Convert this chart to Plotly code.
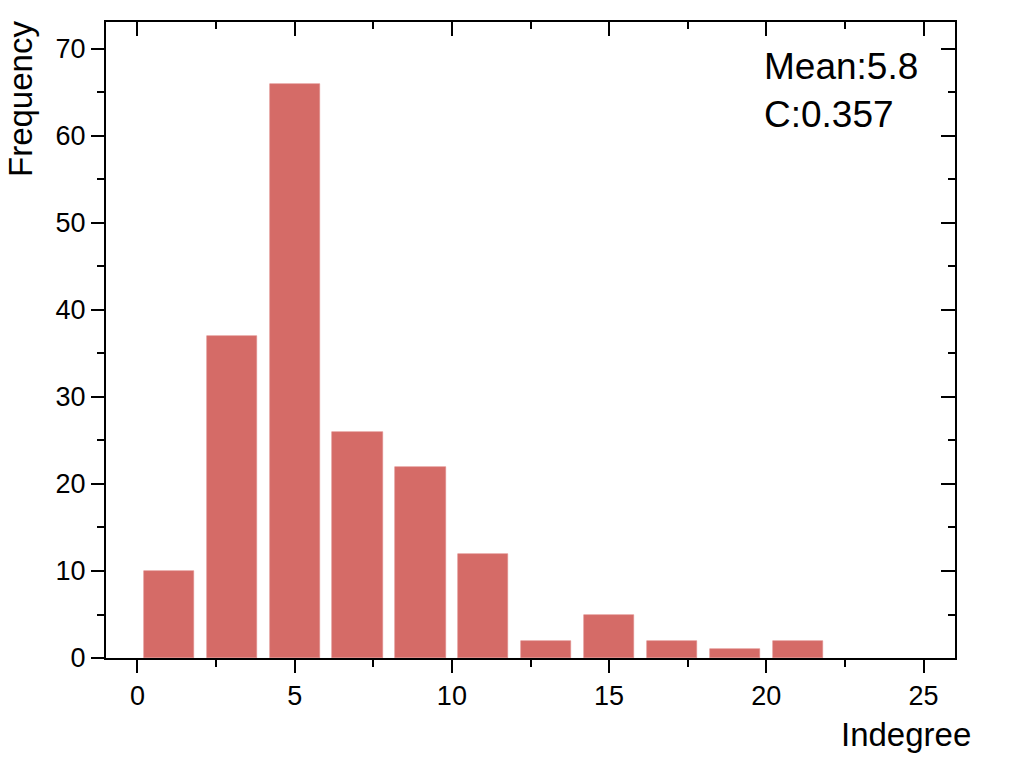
import plotly.graph_objects as go

bin_centers = [1, 3, 5, 7, 9, 11, 13, 15, 17, 19, 21]
frequency = [10, 37, 66, 26, 22, 12, 2, 5, 2, 1, 2]
x_ticks = [0, 5, 10, 15, 20, 25]
y_ticks = [0, 10, 20, 30, 40, 50, 60, 70]

FONT = "Liberation Sans, Arial, sans-serif"
XR = [-1, 26]
YR = [0, 73.1]

fig = go.Figure()
fig.add_trace(go.Bar(
    x=bin_centers, y=frequency, width=1.6,
    marker=dict(color="#D56B67", line=dict(color="#E08A86", width=0.6)),
    showlegend=False,
))

common = dict(showgrid=False, zeroline=False, linecolor="black", linewidth=2,
              tickcolor="black", tickwidth=2, showline=True)

fig.update_layout(
    width=1017, height=764,
    margin=dict(l=98, r=70, t=14, b=114, autoexpand=False),
    plot_bgcolor="white", paper_bgcolor="white",
    font=dict(family=FONT, color="black", size=27),
    xaxis=dict(range=XR, tickvals=x_ticks, ticks="outside", ticklen=13,
               minor=dict(dtick=2.5, ticklen=7, tickwidth=2, tickcolor="black", ticks="outside"),
               tickfont=dict(size=27), automargin=False, **common),
    yaxis=dict(range=YR, tickvals=y_ticks, ticks="outside", ticklen=13,
               minor=dict(dtick=5, ticklen=7, tickwidth=2, tickcolor="black", ticks="outside"),
               tickfont=dict(size=27), automargin=False, **common),
    xaxis2=dict(range=XR, overlaying="x", side="top", tickvals=x_ticks, ticks="inside",
                ticklen=14, showticklabels=False,
                minor=dict(dtick=2.5, ticklen=7, tickwidth=2, tickcolor="black", ticks="inside"),
                **common),
    yaxis2=dict(range=YR, overlaying="y", side="right", tickvals=y_ticks, ticks="inside",
                ticklen=14, showticklabels=False,
                minor=dict(dtick=5, ticklen=7, tickwidth=2, tickcolor="black", ticks="inside"),
                **common),
    bargap=0,
)

# dummy trace to activate secondary axes
fig.add_trace(go.Scatter(x=[None], y=[None], xaxis="x2", yaxis="y2", showlegend=False, hoverinfo="skip"))

fig.add_annotation(text="Frequency", xref="paper", yref="paper", x=0, y=1.0,
                   xanchor="center", yanchor="top", textangle=-90, showarrow=False,
                   font=dict(size=33, family=FONT, color="black"), xshift=-86, yshift=3)
fig.add_annotation(text="Indegree", xref="paper", yref="paper", x=1.0, y=0,
                   xanchor="right", yanchor="top", showarrow=False,
                   font=dict(size=33, family=FONT, color="black"), xshift=18, yshift=-56)
fig.add_annotation(text="Mean:5.8<br>C:0.357", xref="paper", yref="paper", x=0.7727, y=0.966,
                   xanchor="left", yanchor="top", align="left", showarrow=False,
                   font=dict(size=37, family=FONT, color="black"))

fig.write_html("out.html")
